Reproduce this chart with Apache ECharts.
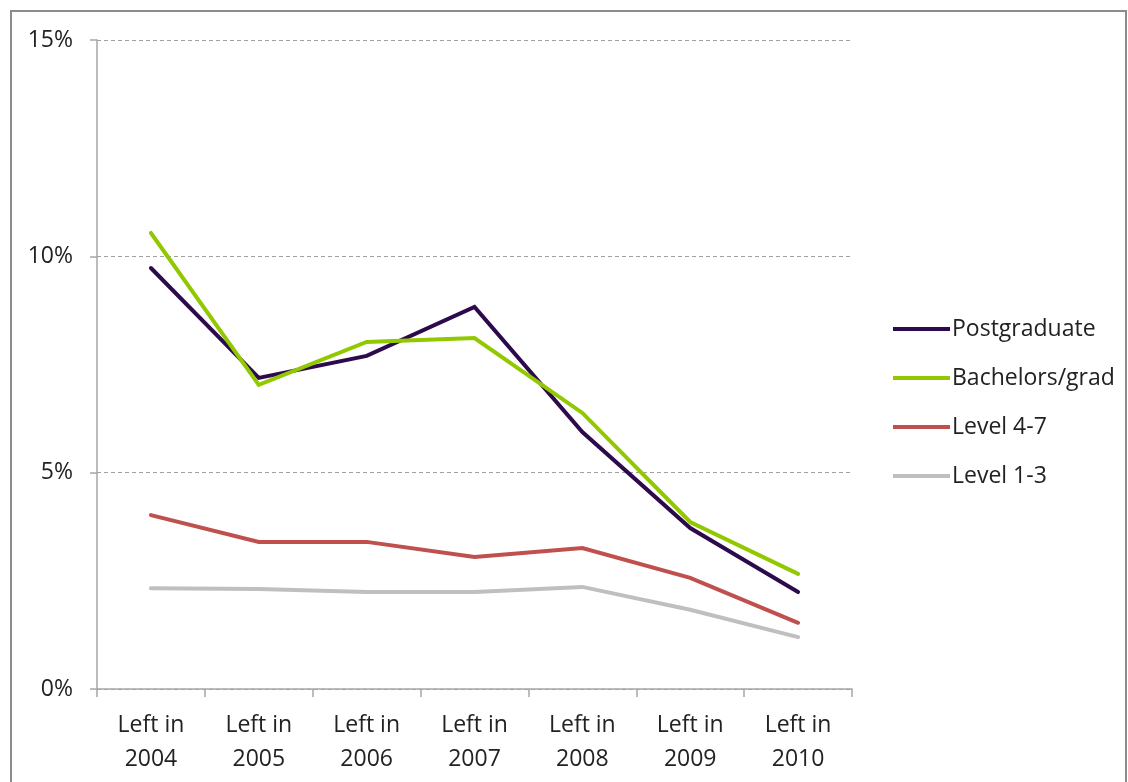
<!DOCTYPE html>
<html>
<head>
<meta charset="utf-8">
<script src="https://cdn.jsdelivr.net/npm/echarts@6/dist/echarts.min.js"></script>
<style>
    html, body { margin: 0; padding: 0; background: #fff; }
    #frame {
        position: absolute; left: 10px; top: 10px; width: 1117px; height: 790px;
        border: 2px solid #8c8c8c; box-sizing: border-box;
    }
    #chart { position: absolute; left: 0; top: 0; width: 1128px; height: 782px; }
</style>
</head>
<body>
<div id="frame"></div>
<div id="chart"></div>
<script>
    var categories = ['Left in\n2004', 'Left in\n2005', 'Left in\n2006', 'Left in\n2007', 'Left in\n2008', 'Left in\n2009', 'Left in\n2010'];
    var postgraduate = [9.73, 7.19, 7.70, 8.83, 5.94, 3.72, 2.24];
    var bachelors = [10.54, 7.03, 8.02, 8.11, 6.38, 3.86, 2.66];
    var level47 = [4.02, 3.40, 3.40, 3.05, 3.26, 2.57, 1.53];
    var level13 = [2.33, 2.31, 2.24, 2.24, 2.36, 1.83, 1.20];

    var font = '"Open Sans", Lato, sans-serif';
    var chart = echarts.init(document.getElementById('chart'));

    function line(name, data, color) {
        return {
            name: name,
            type: 'line',
            data: data,
            symbol: 'none',
            lineStyle: { width: 4, color: color, cap: 'round', join: 'miter' },
            itemStyle: { color: color },
            animation: false
        };
    }

    var option = {
        backgroundColor: 'transparent',
        grid: { left: 97, right: 276, top: 40, bottom: 93 },
        legend: {
            orient: 'vertical',
            left: 893,
            top: 316,
            padding: 0,
            icon: 'rect',
            itemWidth: 57,
            itemHeight: 4,
            itemGap: 23,
            textStyle: { fontFamily: font, fontSize: 23, lineHeight: 26, color: '#222', padding: [0, 0, 0, -3] },
            data: ['Postgraduate', 'Bachelors/grad', 'Level 4-7', 'Level 1-3']
        },
        xAxis: {
            type: 'category',
            data: categories,
            boundaryGap: true,
            axisLine: { lineStyle: { color: '#a6a6a6', width: 1.5 } },
            axisTick: { show: true, length: 8, inside: false, alignWithLabel: false, lineStyle: { color: '#a6a6a6', width: 1.5 } },
            axisLabel: { fontFamily: font, fontSize: 23, color: '#222', margin: 19, lineHeight: 34, interval: 0 }
        },
        yAxis: {
            type: 'value',
            min: 0,
            max: 15,
            interval: 5,
            axisLine: { show: true, lineStyle: { color: '#a6a6a6', width: 1.5 } },
            axisTick: { show: true, length: 7, lineStyle: { color: '#a6a6a6', width: 1.5 } },
            axisLabel: { fontFamily: font, fontSize: 23, color: '#222', margin: 24, formatter: '{value}%' },
            splitLine: { show: true, lineStyle: { color: '#a0a0a0', type: [4, 3], width: 1 } }
        },
        series: [
            line('Postgraduate', postgraduate, '#2d0a4b'),
            line('Bachelors/grad', bachelors, '#92c800'),
            line('Level 4-7', level47, '#c0504d'),
            line('Level 1-3', level13, '#bfbfbf')
        ]
    };
    chart.setOption(option);
</script>
</body>
</html>
